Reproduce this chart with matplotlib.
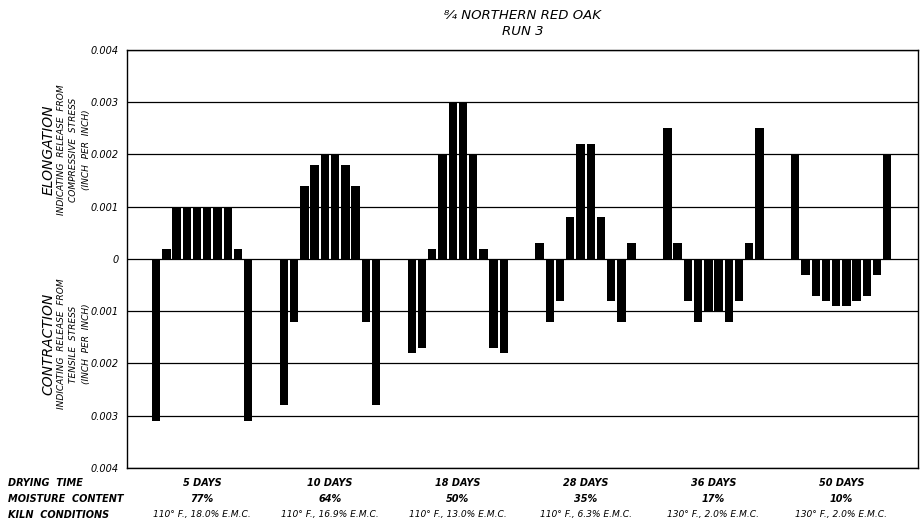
# 乾燥スケジュールごとの断面ひずみ分布 (棒グラフ)

# ライブラリの読み込み
import numpy as np                  # 数値計算
import matplotlib.pyplot as plt     # 描画
import matplotlib.transforms as mtransforms


FILE_NAME = "out.png"

# 各乾燥段階の条件
DRYING_TIME = ["5 DAYS", "10 DAYS", "18 DAYS", "28 DAYS", "36 DAYS", "50 DAYS"]
MOISTURE_CONTENT = ["77%", "64%", "50%", "35%", "17%", "10%"]
KILN_CONDITIONS = ["110° F., 18.0% E.M.C.", "110° F., 16.9% E.M.C.",
                   "110° F., 13.0% E.M.C.", "110° F., 6.3% E.M.C.",
                   "130° F., 2.0% E.M.C.", "130° F., 2.0% E.M.C."]

# 各断面 (10 枚) のひずみ (inch per inch)　正: 伸び, 負: 縮み
STRAIN_5 = [-0.0031, 0.0002, 0.001, 0.001, 0.001, 0.001, 0.001, 0.001, 0.0002, -0.0031]
STRAIN_10 = [-0.0028, -0.0012, 0.0014, 0.0018, 0.002, 0.002, 0.0018, 0.0014, -0.0012, -0.0028]
STRAIN_18 = [-0.0018, -0.0017, 0.0002, 0.002, 0.003, 0.003, 0.002, 0.0002, -0.0017, -0.0018]
STRAIN_28 = [0.0003, -0.0012, -0.0008, 0.0008, 0.0022, 0.0022, 0.0008, -0.0008, -0.0012, 0.0003]
STRAIN_36 = [0.0025, 0.0003, -0.0008, -0.0012, -0.001, -0.001, -0.0012, -0.0008, 0.0003, 0.0025]
STRAIN_50 = [0.002, -0.0003, -0.0007, -0.0008, -0.0009, -0.0009, -0.0008, -0.0007, -0.0003, 0.002]

# 縦軸目盛 (上下とも絶対値で表記)
Y_TICKS = [-0.004, -0.003, -0.002, -0.001, 0, 0.001, 0.002, 0.003, 0.004]
Y_TICK_LABELS = ["0.004", "0.003", "0.002", "0.001", "0",
                 "0.001", "0.002", "0.003", "0.004"]

GROUP_STEP = 12.5       # グループ間隔 (断面幅単位)
BAR_WIDTH = 0.82
FONT = dict(family="DejaVu Sans", style="italic")


def main():
    """
    メイン処理
    """
    groups = [STRAIN_5, STRAIN_10, STRAIN_18, STRAIN_28, STRAIN_36, STRAIN_50]

    fig = plt.figure(figsize=(9.21, 5.24), dpi=100)
    ax = fig.add_axes([0.1379, 0.1069, 0.8588, 0.7977])

    # 棒を描画
    centers = []
    for g, values in enumerate(groups):
        x = g * GROUP_STEP + np.arange(len(values))
        ax.bar(x, values, width=BAR_WIDTH, color="black", zorder=3)
        centers.append(x.mean())

    ax.set_xlim(-2.85, 5 * GROUP_STEP + 9 + 3.0)
    ax.set_ylim(-0.004, 0.004)

    # 目盛と格子
    ax.set_yticks(Y_TICKS)
    ax.set_yticklabels(Y_TICK_LABELS, fontsize=7, **FONT)
    ax.set_xticks([])
    ax.tick_params(axis="y", length=0, pad=6)
    ax.grid(axis="y", color="black", linewidth=0.9, zorder=1)
    for spine in ax.spines.values():
        spine.set_linewidth(1.0)

    # タイトル
    fig.text(0.5673, 0.971, "⁸⁄₄ NORTHERN RED OAK", ha="center", va="center",
             fontsize=9.5, **FONT)
    fig.text(0.5673, 0.939, "RUN 3", ha="center", va="center", fontsize=9.5, **FONT)

    # 縦軸ラベル (伸び・縮み)
    plot_side_label(fig, 0.7135, "ELONGATION", "COMPRESSIVE  STRESS")
    plot_side_label(fig, 0.3435, "CONTRACTION", "TENSILE  STRESS")

    # 下部の条件表
    rows = [("DRYING  TIME", DRYING_TIME), ("MOISTURE  CONTENT", MOISTURE_CONTENT),
            ("KILN  CONDITIONS", KILN_CONDITIONS)]
    trans = mtransforms.blended_transform_factory(ax.transData, fig.transFigure)
    for r, (name, labels) in enumerate(rows):
        y = 1 - (483 + 16 * r) / 524
        fig.text(0.009, y, name, ha="left", va="center", fontsize=7,
                 weight="bold", **FONT)
        for cx, label in zip(centers, labels):
            fig.text(cx, y, label, ha="center", va="center",
                     fontsize=7 if r < 2 else 6.6,
                     weight="bold" if r < 2 else "normal", transform=trans, **FONT)

    # ファイル保存
    fig.savefig(FILE_NAME, dpi=100)


def plot_side_label(fig, y, head, stress):
    """
    縦軸の説明文を縦書きで描画

    パラメータ
        fig(Figure): 描画先
        y(float): 中心の高さ (figure 座標)
        head(str): 見出し
        stress(str): 応力の種類
    """
    fig.text(0.053, y, head, rotation=90, ha="center", va="center", fontsize=10, **FONT)
    fig.text(0.0673, y, "INDICATING  RELEASE  FROM", rotation=90, ha="center",
             va="center", fontsize=6.5, **FONT)
    fig.text(0.0803, y, stress, rotation=90, ha="center", va="center", fontsize=6.5, **FONT)
    fig.text(0.0934, y, "(INCH  PER  INCH)", rotation=90, ha="center", va="center",
             fontsize=6.5, **FONT)


if __name__ == "__main__":
    main()
